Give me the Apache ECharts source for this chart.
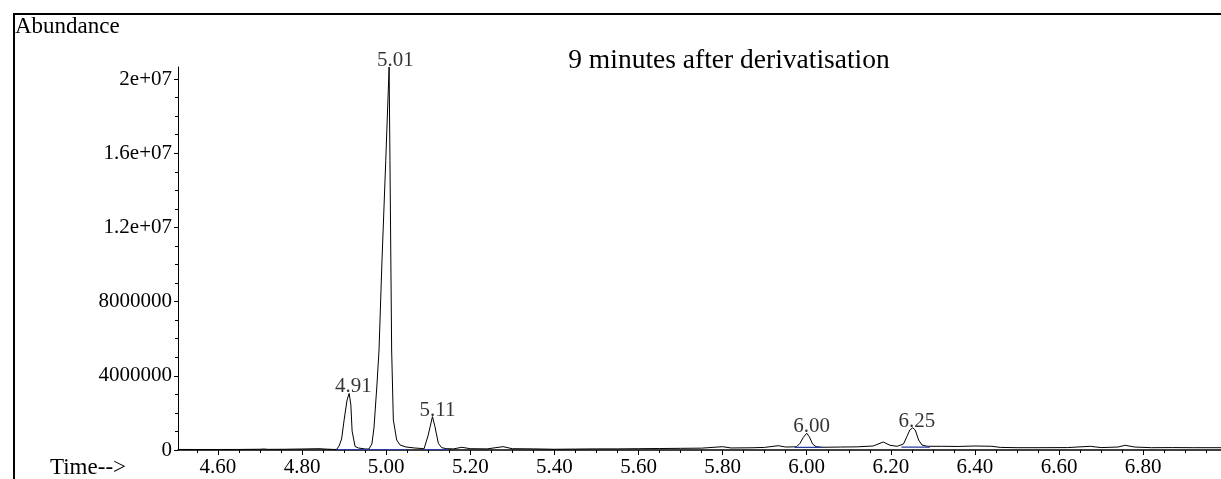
<!DOCTYPE html>
<html>
<head>
<meta charset="utf-8">
<script src="https://cdn.jsdelivr.net/npm/echarts@6/dist/echarts.min.js"></script>
<style>
  html, body { margin: 0; padding: 0; background: #fff; }
  #chart { width: 1221px; height: 479px; }
</style>
</head>
<body>
<div id="chart"></div>
<script>
// Total ion chromatogram, 9 minutes after derivatisation
const titleText = '9 minutes after derivatisation';
const yAxisTitle = 'Abundance';
const xAxisTitle = 'Time-->';

// Retention time (min) / abundance pairs of the trace
const traceTime = [
  4.505, 4.55, 4.60, 4.65, 4.70, 4.708, 4.72, 4.76, 4.80, 4.84, 4.86, 4.875,
  4.882, 4.888, 4.894, 4.900, 4.907, 4.912, 4.916, 4.919, 4.926, 4.934, 4.950, 4.959,
  4.966, 4.971, 4.978, 4.983, 4.990, 4.999, 5.007, 5.009, 5.013, 5.017, 5.025, 5.033,
  5.047, 5.068, 5.085, 5.090, 5.100, 5.110, 5.116, 5.124, 5.132, 5.144, 5.16, 5.180,
  5.20, 5.24, 5.278, 5.30, 5.35, 5.40, 5.45, 5.50, 5.55, 5.60, 5.65, 5.70,
  5.75, 5.80, 5.82, 5.87, 5.90, 5.932, 5.95, 5.970, 5.976, 5.984, 5.992, 6.000,
  6.006, 6.014, 6.022, 6.036, 6.08, 6.12, 6.158, 6.182, 6.198, 6.215, 6.230, 6.238,
  6.245, 6.252, 6.258, 6.266, 6.274, 6.286, 6.32, 6.36, 6.40, 6.44, 6.46, 6.50,
  6.55, 6.62, 6.674, 6.70, 6.74, 6.757, 6.78, 6.82, 6.87, 6.92, 6.985
];
const traceAbundance = [
  30000, 27000, 27000, 30000, 40000, 54000, 35000, 40000, 54000, 70000, 45000, 30000,
  30000, 215000, 593000, 1620000, 2700000, 3050000, 2430000, 1020000, 190000, 108000, 54000, 54000,
  323000, 1190000, 3500000, 5390000, 10200000, 15600000, 20650000, 15600000, 5390000, 1620000, 539000, 270000,
  162000, 108000, 80000, 60000, 810000, 1800000, 1260000, 360000, 124000, 70000, 60000, 146000,
  70000, 60000, 180000, 70000, 60000, 40000, 50000, 60000, 60000, 70000, 80000, 90000,
  100000, 178000, 110000, 120000, 140000, 232000, 160000, 170000, 178000, 361000, 685000, 900000,
  717000, 323000, 178000, 146000, 160000, 170000, 216000, 431000, 253000, 199000, 323000, 717000,
  1080000, 1200000, 1080000, 539000, 270000, 199000, 200000, 190000, 216000, 200000, 140000, 124000,
  124000, 130000, 199000, 130000, 160000, 253000, 160000, 124000, 130000, 124000, 124000
];

// Integrated peaks: retention time label and apex abundance
const peakTimes = [4.91, 5.01, 5.11, 6.00, 6.25];
const peakApex = [3050000, 20650000, 1800000, 900000, 1200000];

// Integration baselines: start/end time and level
const baseStart = [4.882, 5.089, 5.971, 6.225];
const baseEnd = [5.049, 5.147, 6.038, 6.293];
const baseLevel = [20000, 20000, 140000, 150000];

// Axis ticks
const xMajorTicks = [4.60, 4.80, 5.00, 5.20, 5.40, 5.60, 5.80, 6.00, 6.20, 6.40, 6.60, 6.80];
const xMinorTicks = [4.55, 4.65, 4.70, 4.75, 4.85, 4.90, 4.95, 5.05, 5.10, 5.15, 5.25, 5.30, 5.35,
  5.45, 5.50, 5.55, 5.65, 5.70, 5.75, 5.85, 5.90, 5.95, 6.05, 6.10, 6.15, 6.25, 6.30, 6.35,
  6.45, 6.50, 6.55, 6.65, 6.70, 6.75, 6.85, 6.90, 6.95];
const yMajorTicks = [0, 4000000, 8000000, 12000000, 16000000, 20000000];
const yTickLabels = ['0', '4000000', '8000000', '1.2e+07', '1.6e+07', '2e+07'];
const yMinorTicks = [1000000, 2000000, 3000000, 5000000, 6000000, 7000000, 9000000, 10000000,
  11000000, 13000000, 14000000, 15000000, 17000000, 18000000, 19000000];

const X_MIN = 4.505, X_MAX = 6.985, Y_MAX = 20650000;
const FONT = '"Liberation Serif", "Times New Roman", serif';

const trace = traceTime.map((t, i) => [t, traceAbundance[i]]);
const baselines = [];
baseStart.forEach((s, i) => {
  baselines.push([s, baseLevel[i]], [baseEnd[i], baseLevel[i]]);
  if (i < baseStart.length - 1) baselines.push([(baseEnd[i] + baseStart[i + 1]) / 2, '-']);
});
const peaks = peakTimes.map((t, i) => [t, peakApex[i]]);

const chart = echarts.init(document.getElementById('chart'), null, { renderer: 'canvas' });

const xCommon = { type: 'value', min: X_MIN, max: X_MAX, position: 'bottom', splitLine: { show: false } };
const yCommon = { type: 'value', min: 0, max: Y_MAX, position: 'left', splitLine: { show: false } };

chart.setOption({
  animation: false,
  backgroundColor: '#fff',
  grid: { left: 178, right: 0, top: 67, bottom: 29 },
  xAxis: [
    Object.assign({}, xCommon, {
      axisLine: { lineStyle: { color: '#000', width: 1.5 } },
      axisTick: { customValues: xMajorTicks, length: 5, lineStyle: { color: '#000', width: 1 } },
      axisLabel: {
        customValues: xMajorTicks, formatter: v => v.toFixed(2),
        color: '#000', fontFamily: FONT, fontSize: 21, margin: 7
      }
    }),
    Object.assign({}, xCommon, {
      axisLine: { show: false },
      axisTick: { customValues: xMinorTicks, length: 3, lineStyle: { color: '#000', width: 1 } },
      axisLabel: { show: false }
    })
  ],
  yAxis: [
    Object.assign({}, yCommon, {
      axisLine: { show: true, lineStyle: { color: '#000', width: 1 } },
      axisTick: { show: true, customValues: yMajorTicks, length: 4, lineStyle: { color: '#000', width: 1 } },
      axisLabel: {
        customValues: yMajorTicks,
        formatter: v => yTickLabels[yMajorTicks.indexOf(v)],
        color: '#000', fontFamily: FONT, fontSize: 21, margin: 6
      }
    }),
    Object.assign({}, yCommon, {
      axisLine: { show: false },
      axisTick: { show: true, customValues: yMinorTicks, length: 3, lineStyle: { color: '#000', width: 1 } },
      axisLabel: { show: false }
    })
  ],
  series: [
    {
      type: 'line', data: trace, symbol: 'none', smooth: false, z: 2,
      lineStyle: { color: '#000', width: 1 }
    },
    {
      type: 'line', data: baselines, symbol: 'none', connectNulls: false, z: 3,
      lineStyle: { color: '#2b3a9e', width: 1.2 }
    },
    {
      type: 'scatter', data: peaks, symbolSize: 0, z: 4,
      label: {
        show: true, position: 'top', distance: 0, offset: [5, 4],
        formatter: p => p.value[0].toFixed(2),
        color: '#000', fontFamily: FONT, fontSize: 21
      }
    }
  ],
  graphic: [
    {
      type: 'rect', silent: true, z: 10,
      shape: { x: 14, y: 14, width: 1400, height: 700 },
      style: { fill: null, stroke: '#000', lineWidth: 2 }
    },
    {
      type: 'text', x: 15, y: 27, z: 10,
      style: { text: yAxisTitle, font: '23px ' + FONT, fill: '#000', textAlign: 'left', textVerticalAlign: 'middle' }
    },
    {
      type: 'text', x: 88, y: 468, z: 10,
      style: { text: xAxisTitle, font: '23px ' + FONT, fill: '#000', textAlign: 'center', textVerticalAlign: 'middle' }
    },
    {
      type: 'text', x: 729, y: 61, z: 10,
      style: { text: titleText, font: '27.5px ' + FONT, fill: '#000', textAlign: 'center', textVerticalAlign: 'middle' }
    }
  ]
});
</script>
</body>
</html>
